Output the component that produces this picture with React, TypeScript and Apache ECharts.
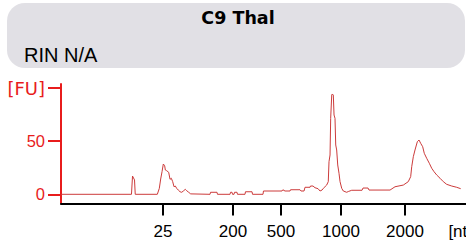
import React, { useEffect, useRef } from "react";
import * as echarts from "echarts";

// Migration time (s) of each trace point and fluorescence (FU)
const times = [
  17, 25.81, 25.94, 26.19, 26.28, 29.04, 29.29, 29.46, 29.63, 29.79, 29.96, 30.04, 30.21, 30.46,
  30.63, 30.79, 30.96, 31.13, 31.29, 31.46, 31.66, 31.88, 32.09, 32.29, 32.54, 32.71, 32.96, 33.21,
  35.63, 35.69, 36.5, 36.56, 38.13, 38.19, 38.38, 38.44, 38.63, 38.69, 39.0, 39.06, 40.0, 40.06,
  40.88, 40.94, 42.25, 42.31, 44.63, 44.69, 44.88, 44.94, 45.63, 45.69, 46.88, 47.0, 47.38, 47.5,
  48.13, 48.19, 48.5, 48.75, 49.13, 49.38, 49.63, 49.79, 50.21, 50.41, 50.5, 50.63, 50.71, 50.84,
  50.91, 51.04, 51.13, 51.25, 51.34, 51.46, 51.59, 51.75, 51.88, 52.09, 52.29, 52.71, 52.91, 53.34,
  54.63, 54.75, 55.38, 55.5, 58.13, 58.75, 59.79, 60.41, 60.71, 60.84, 61.04, 61.25, 61.54, 61.75,
  61.96, 62.21, 62.41, 62.71, 63.04, 63.34, 63.63, 63.96, 64.38, 64.79, 65.21, 65.84, 66.46, 66.96,
];
const fu = [
  0, 0, 17.2, 13.5, 0, 0, 5.6, 14.4, 21.3, 28.5, 26.9, 22.9, 22.2, 20.7,
  14.1, 15.1, 11.9, 7.1, 7.8, 5.6, 4.0, 2.4, 1.9, 3.1, 4.7, 3.4, 1.9, 0.4,
  0, 1.9, 1.9, 0, 0, 1.9, 1.9, 0, 0, 1.9, 1.9, 0, 0, 2.4,
  2.4, 0, 0, 3.1, 3.1, 4.0, 4.0, 3.1, 3.1, 4.3, 4.3, 3.1, 3.1, 6.6,
  6.6, 7.8, 7.8, 6.2, 5.3, 3.1, 4.0, 5.6, 8.7, 11.9, 30.7, 37.0, 71.5, 93.4,
  94.4, 93.4, 74.6, 71.5, 46.4, 41.7, 27.6, 19.8, 11.9, 5.6, 3.1, 1.9, 2.6, 3.8,
  3.8, 5.9, 5.9, 4.0, 4.0, 7.1, 8.7, 11.9, 16.6, 26.0, 35.4, 41.7, 49.5, 51.1,
  48.0, 44.8, 38.6, 33.9, 29.2, 24.5, 21.3, 18.2, 15.1, 11.9, 9.4, 7.8, 6.6, 5.3,
];

// Ladder positions (migration time) and their size labels
const ladderTimes = [29.75, 38.5, 44.5, 52, 60];
const ladderLabels = ["25", "200", "500", "1000", "2000"];
const unitTime = 66.9;
const unitLabel = "[nt]";
const yTicks = [0, 50, 100];

const title = "C9 Thal";
const subtitle = "RIN N/A";

export default function App() {
  const ref = useRef<HTMLDivElement>(null);
  useEffect(() => {
    if (!ref.current) return;
    const chart = echarts.init(ref.current, undefined, { renderer: "svg" });
    const red = "#e81c1c";
    const labelMap: Record<string, string> = {};
    ladderTimes.forEach((t, i) => (labelMap[String(t)] = ladderLabels[i]));
    labelMap[String(unitTime)] = unitLabel;
    chart.setOption({
      animation: false,
      backgroundColor: "#ffffff",
      graphic: [
        {
          type: "rect",
          shape: { x: 7, y: 3, width: 458, height: 65, r: 18 },
          style: { fill: "#e1e0e5" },
          z: 0,
        },
        {
          type: "text",
          x: 238,
          y: 18,
          style: {
            text: title,
            fontFamily: "DejaVu Sans",
            fontWeight: "bold",
            fontSize: 17.5,
            fill: "#000",
            align: "center",
            verticalAlign: "middle",
          },
        },
        {
          type: "text",
          x: 24,
          y: 55,
          style: {
            text: subtitle,
            fontFamily: "Liberation Sans",
            fontSize: 20,
            fill: "#000",
            align: "left",
            verticalAlign: "middle",
          },
        },
      ],
      grid: {
        left: 61,
        right: 0,
        top: 84,
        bottom: 41.5,
        containLabel: false,
        outerBoundsMode: "none",
      },
      xAxis: {
        type: "value",
        min: 17,
        max: 67.625,
        axisLine: { onZero: false, lineStyle: { color: "#000", width: 2 } },
        axisTick: {
          show: true,
          length: 12,
          lineStyle: { color: "#000", width: 2 },
          customValues: ladderTimes,
        },
        axisLabel: {
          customValues: [...ladderTimes, unitTime],
          formatter: (v: number) => labelMap[String(v)] ?? "",
          fontFamily: "Liberation Sans",
          fontSize: 17,
          color: "#000",
          margin: 19,
        },
        splitLine: { show: false },
      },
      yAxis: {
        type: "value",
        min: -8.65,
        max: 103.8,
        axisLine: { show: true, onZero: false, lineStyle: { color: red, width: 2 } },
        axisTick: {
          show: true,
          length: 13,
          lineStyle: { color: red, width: 2 },
          customValues: yTicks,
        },
        axisLabel: {
          customValues: yTicks,
          formatter: (v: number) => (v === 100 ? "{fu|[FU]}" : String(v)),
          fontFamily: "Liberation Sans",
          fontSize: 16.5,
          color: red,
          margin: 16,
          rich: {
            fu: { fontFamily: "DejaVu Sans", fontSize: 18, color: red },
          },
        },
        splitLine: { show: false },
      },
      series: [
        {
          type: "line",
          data: times.map((t, i) => [t, fu[i]]),
          showSymbol: false,
          symbol: "none",
          lineStyle: { color: "#cc3b3b", width: 1 },
          clip: true,
        },
      ],
    });
    return () => chart.dispose();
  }, []);
  return (
    <div
      ref={ref}
      style={{ position: "fixed", left: 0, top: 0, width: 466, height: 245 }}
    />
  );
}
